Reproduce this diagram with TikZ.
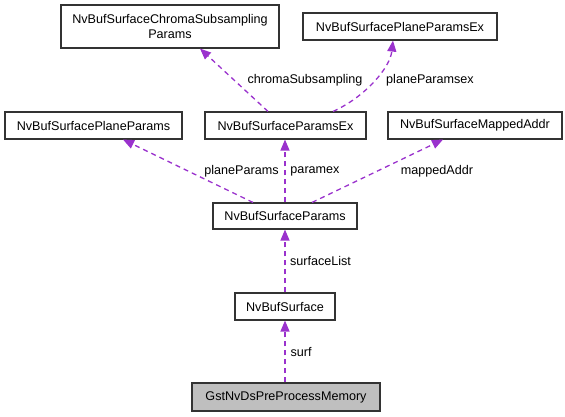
\documentclass[tikz,border=0pt]{standalone}
\usepackage{fontspec}
\setmainfont{Liberation Sans}
\usetikzlibrary{arrows.meta}
\definecolor{edgec}{HTML}{9A32CD}
\definecolor{gstfill}{HTML}{BFBFBF}
\begin{document}
\begin{tikzpicture}[x=1pt,y=-1pt,
  cls/.style={draw=black!80, line width=1.1pt, fill=white, inner sep=0pt, minimum height=27pt, align=center, font=\fontsize{12.6}{15}\selectfont},
  edge/.style={draw=edgec, line width=1.3pt, dash pattern=on 5pt off 4pt, -{Triangle[length=11pt,width=9pt]}},
  lbl/.style={inner sep=0pt, font=\fontsize{12.6}{15}\selectfont}]
\useasboundingbox (0,0) rectangle (565,416);
\node[cls, minimum width=218pt, minimum height=43pt] (chroma) at (170,26.5) {NvBufSurfaceChromaSubsampling\\Params};
\node[cls, minimum width=194pt] (ppex) at (400,26.5) {NvBufSurfacePlaneParamsEx};
\node[cls, minimum width=177pt] (pp) at (93.5,125.5) {NvBufSurfacePlaneParams};
\node[cls, minimum width=161pt] (pex) at (285.5,125.5) {NvBufSurfaceParamsEx};
\node[cls, minimum width=174pt] (ma) at (475,125.5) {NvBufSurfaceMappedAddr};
\node[cls, minimum width=144pt, minimum height=26pt] (params) at (285,216) {NvBufSurfaceParams};
\node[cls, minimum width=100pt] (nbs) at (285,306.5) {NvBufSurface};
\node[cls, minimum width=188pt, minimum height=28pt, fill=gstfill] (gst) at (286,397) {GstNvDsPreProcessMemory};

\draw[edge] (pex.north -| 268,0) -- (chroma.south -| 200,0);
\draw[edge] (pex.north -| 333,0) .. controls (365,97) and (390,68) .. (ppex.south -| 393,0);
\draw[edge] (params.north -| 253,0) -- (pp.south -| 123,0);
\draw[edge] (params.north -| 285,0) -- (pex.south -| 285,0);
\draw[edge] (params.north -| 312,0) -- (ma.south -| 443,0);
\draw[edge] (nbs.north -| 285,0) -- (params.south -| 285,0);
\draw[edge] (gst.north -| 285,0) -- (nbs.south -| 285,0);

\node[lbl] (l1) at (305,80) {chromaSubsampling};
\node[lbl] (l2) at (430,80) {planeParamsex};
\node[lbl] (l3) at (241.5,171) {planeParams};
\node[lbl] (l4) at (315,171) {paramex};
\node[lbl] (l5) at (437,171) {mappedAddr};
\node[lbl] (l6) at (320.5,261) {surfaceList};
\node[lbl] (l7) at (301,352) {surf};
\end{tikzpicture}
\end{document}
